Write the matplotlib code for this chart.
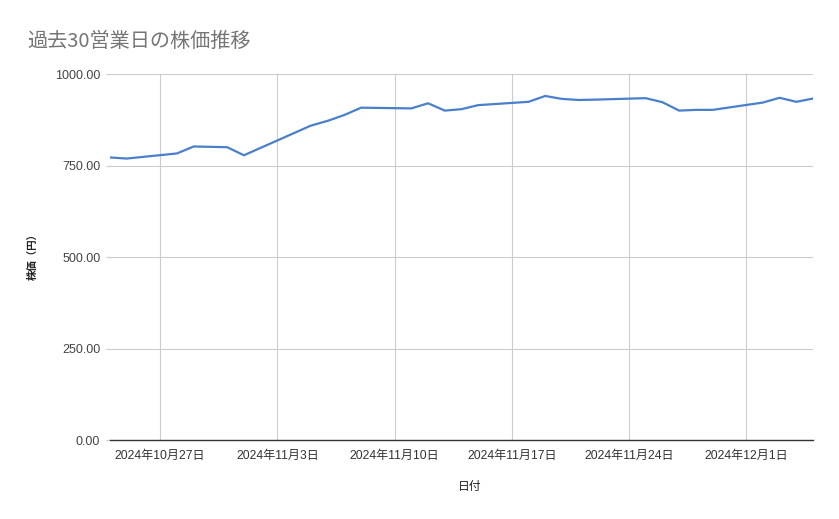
import datetime as dt
import matplotlib.pyplot as plt

plt.switch_backend('Agg')
plt.rcParams['font.family'] = ['Liberation Sans', 'Noto Sans CJK JP', 'DejaVu Sans']

# Business days (11/4 was a holiday) and closing prices
dates = ["2024-10-24", "2024-10-25", "2024-10-28", "2024-10-29", "2024-10-30",
         "2024-10-31", "2024-11-01", "2024-11-05", "2024-11-06", "2024-11-07",
         "2024-11-08", "2024-11-11", "2024-11-12", "2024-11-13", "2024-11-14",
         "2024-11-15", "2024-11-18", "2024-11-19", "2024-11-20", "2024-11-21",
         "2024-11-22", "2024-11-25", "2024-11-26", "2024-11-27", "2024-11-28",
         "2024-11-29", "2024-12-02", "2024-12-03", "2024-12-04", "2024-12-05"]
prices = [772, 769, 783, 802, 801, 800, 778, 859, 872, 888,
          908, 906, 920, 900, 904, 915, 924, 940, 932, 929,
          930, 934, 923, 900, 902, 902, 922, 935, 924, 933]
y_ticks = [0, 250, 500, 750, 1000]
x_ticks = ["2024-10-27", "2024-11-03", "2024-11-10", "2024-11-17", "2024-11-24", "2024-12-01"]

to_dt = lambda s: dt.datetime.strptime(s, "%Y-%m-%d")
xs = [to_dt(d) for d in dates]
xt = [to_dt(d) for d in x_ticks]

fig = plt.figure(figsize=(8.39, 5.19), dpi=100)
ax = fig.add_axes([0.1311, 0.1522, 0.838, 0.7052])

ax.plot(xs, prices, color="#4a7fcb", linewidth=1.6, solid_joinstyle="round")

ax.set_xlim(xs[0], xs[-1])
ax.set_ylim(0, 1000)
ax.set_yticks(y_ticks)
ax.set_yticklabels([f"{v:.2f}" for v in y_ticks])
ax.set_xticks(xt)
ax.set_xticklabels([f"{d.year}年{d.month}月{d.day}日" for d in xt])

ax.grid(True, color="#cccccc", linewidth=0.8)
ax.set_axisbelow(True)
for side in ["top", "right", "left"]:
    ax.spines[side].set_visible(False)
ax.spines["bottom"].set_color("#333333")
ax.spines["bottom"].set_linewidth(1.0)
ax.tick_params(axis="y", length=3, color="#cccccc", labelsize=9, labelcolor="#444444", pad=4)
ax.tick_params(axis="x", length=0, labelsize=8.7, labelcolor="#333333", pad=7)

fig.text(0.032, 0.909, "過去30営業日の株価推移", fontsize=14.5, color="#757575",
         family=['Noto Sans CJK JP', 'DejaVu Sans'], va="baseline", ha="left")
fig.text(0.039, 0.51, "株価（円）", fontsize=7.5, fontweight="bold", color="#222222",
         rotation=90, ha="center", va="center", family=['Noto Sans CJK JP', 'DejaVu Sans'])
fig.text(0.56, 0.062, "日付", fontsize=8.5, color="#222222",
         ha="center", va="center", family=['Noto Sans CJK JP', 'DejaVu Sans'])

fig.savefig("out.png", dpi=100, facecolor="white")
